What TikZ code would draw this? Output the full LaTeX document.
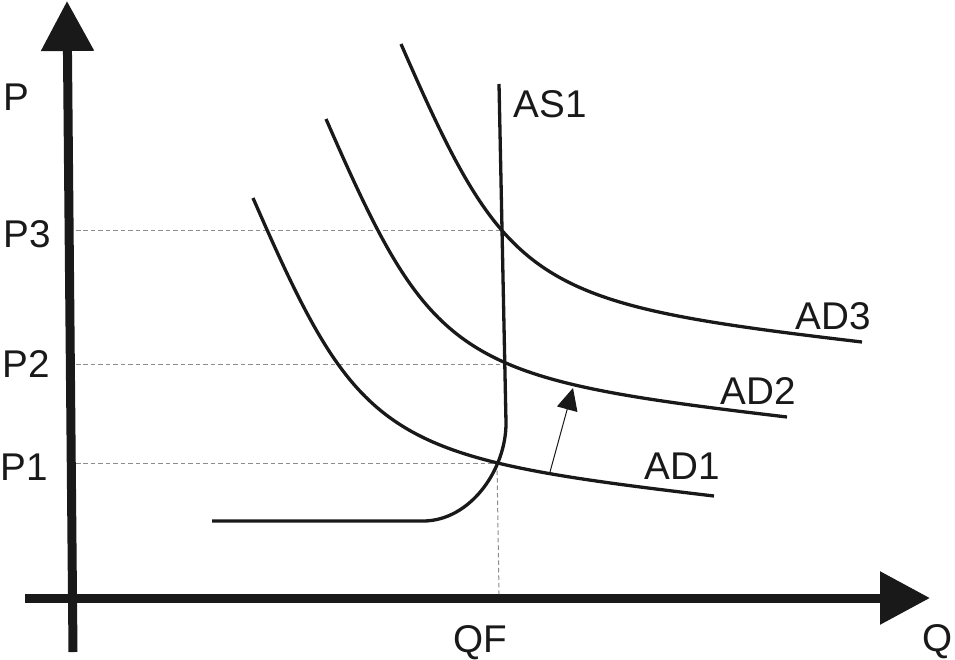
\documentclass[tikz,border=0pt]{standalone}
\usepackage{fontspec}
\setmainfont{Liberation Sans}
\usetikzlibrary{arrows.meta, calc}

\begin{document}
\begin{tikzpicture}[x=0.02cm, y=-0.02cm,
    axis/.style={line width=0.18cm, color=black!90, -{Triangle[length=1.0cm, width=1.02cm]}},
    curve/.style={line width=0.066cm, color=black!90},
    guide/.style={line width=0.02cm, color=black!45, dash pattern=on 0.09cm off 0.06cm},
    lbl/.style={font=\fontsize{22}{26}\selectfont, text=black!90, inner sep=0pt, anchor=base}]

%%Paramaters
%% price levels and full employment output, can be modified
\def\PoneY{463}
\def\PtwoY{364}
\def\PthreeY{230}
\def\QFX{499}

%% one demand curve, the others are shifted copies
\def\ADcurve{(326,119) .. controls (433,364) and (456,378) .. (787,417)}

    \useasboundingbox (0,0) rectangle (955,659);

    %% axes
    \coordinate (ybot) at (73,652);
    \coordinate (ytop) at (67,1);
    \coordinate (xleft) at (25,598);
    \coordinate (xright) at (930,598);

    \draw[axis] (ybot) -- (ytop);
    \draw[axis] (xleft) -- (xright);

    \node[lbl] (P) at (16,110) {P};
    \node[lbl] (Q) at (938,651) {Q};

    %% equilibrium points
    \coordinate (e1) at (497,\PoneY);
    \coordinate (e2) at (505,\PtwoY);
    \coordinate (e3) at (502,\PthreeY);

    %% price guides
    \node[lbl] (P3) at (27,247) {P3};
    \node[lbl] (P2) at (26,377) {P2};
    \node[lbl] (P1) at (24,480) {P1};
    \node[lbl] (QF) at (480,652) {QF};

    \draw[guide] (76,\PthreeY) -- (e3);
    \draw[guide] (76,\PtwoY) -- (e2);
    \draw[guide] (76,\PoneY) -- (e1);
    \draw[guide] (e1) -- (\QFX,594);

    %% aggregate supply
    \draw[curve] (212,521) -- (423,521) .. controls (470,521) and (506,470) .. (506,423) -- (499,84);
    \node[lbl] (AS1) at (550,117) {AS1};

    %% aggregate demand
    \draw[curve, shift={(-73,79)}] \ADcurve;
    \node[lbl] (AD1) at (682,479) {AD1};

    \draw[curve] \ADcurve;
    \node[lbl] (AD2) at (758,404) {AD2};

    \draw[curve, shift={(75,-75)}] \ADcurve;
    \node[lbl] (AD3) at (833,329) {AD3};

    %% shift of demand
    \coordinate (s1) at (550,472);
    \coordinate (s2) at (573,388);
    \draw[line width=0.02cm, color=black!90, -{Triangle[length=0.44cm, width=0.42cm]}] (s1) -- (s2);

\end{tikzpicture}
\end{document}
